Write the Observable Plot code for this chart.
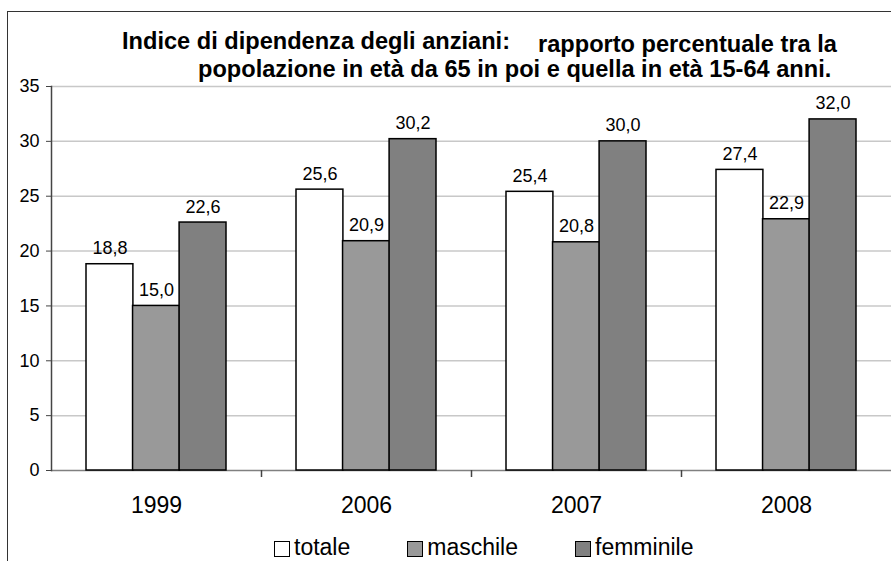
<!DOCTYPE html>
<html><head><meta charset="utf-8">
<script src="https://cdn.jsdelivr.net/npm/d3@7"></script>
<script src="https://cdn.jsdelivr.net/npm/@observablehq/plot@0.6"></script>
<style>
body{margin:0;background:#fff;}
#wrap{position:relative;width:891px;height:561px;overflow:hidden;font-family:"Liberation Sans",Arial,sans-serif;color:#000;background:#fff;}
#wrap svg{position:absolute;left:0;top:0;background:transparent;}
#border{position:absolute;left:7px;top:11px;width:1000px;height:1000px;border-top:1.5px solid #333;border-left:1.5px solid #333;pointer-events:none;}
.t{position:absolute;font-weight:bold;font-size:23.6px;line-height:23.6px;white-space:nowrap;}
#legend{position:absolute;left:274px;top:536px;display:flex;gap:57px;font-size:23px;line-height:23px;white-space:nowrap;}
.item{display:flex;align-items:flex-start;}
.box{width:14px;height:14px;border:1px solid #000;margin-top:5px;margin-right:4px;}
</style></head>
<body>
<div id="wrap">
  <div class="t" id="t1" style="left:122px;top:30px;"></div>
  <div class="t" id="t2" style="left:538px;top:33px;"></div>
  <div class="t" id="t3" style="left:198px;top:58px;"></div>
  <div id="legend"></div>
</div>
<script>
const years = ["1999", "2006", "2007", "2008"];
const series = ["totale", "maschile", "femminile"];
const totale = [18.8, 25.6, 25.4, 27.4];
const maschile = [15.0, 20.9, 20.8, 22.9];
const femminile = [22.6, 30.2, 30.0, 32.0];
const yTicks = [0, 5, 10, 15, 20, 25, 30, 35];
const colors = ["#ffffff", "#999999", "#808080"];
const titleA = "Indice di dipendenza degli anziani:";
const titleB = "rapporto percentuale tra la";
const titleC = "popolazione in età da 65 in poi e quella in età 15-64 anni.";

const values = [totale, maschile, femminile];
const rows = years.flatMap((y, i) => series.map((s, j) => ({year: y, series: s, value: values[j][i]})));
const fmt = v => d3.format(".1f")(v).replace(".", ",");

const W = 891, H = 561, ML = 51, MR = 0, MT = 86, MB = 91;
const pIn = 0.335, pOut = pIn / 2;
const step = (W - ML - MR) / (years.length - pIn + 2 * pOut);
const bw = step * (1 - pIn);
const third = bw / series.length;

const plot = Plot.plot({
  width: W, height: H,
  marginLeft: ML, marginRight: MR, marginTop: MT, marginBottom: MB,
  style: {fontFamily: "'Liberation Sans', Arial, sans-serif", background: "transparent", color: "#000"},
  x: {type: "band", domain: years, paddingInner: pIn, paddingOuter: pOut, axis: null},
  y: {domain: [0, 35], axis: null},
  marks: [
    Plot.ruleY(yTicks.slice(1), {stroke: "#c8c8c8", strokeWidth: 1.5}),
    Plot.ruleY([0], {stroke: "#808080", strokeWidth: 1.5}),
    ...series.map((s, j) => Plot.barY(rows.filter(d => d.series === s), {
      x: "year", y: "value", fill: colors[j], stroke: "#000", strokeWidth: 1.5,
      insetLeft: j * third, insetRight: (series.length - 1 - j) * third
    })),
    ...series.map((s, j) => Plot.text(rows.filter(d => d.series === s), {
      x: "year", y: "value", text: d => fmt(d.value), dx: (j - 1) * third, dy: -10,
      lineAnchor: "bottom", fontSize: 18, fill: "#000"
    })),
    Plot.frame({anchor: "left", stroke: "#444", strokeWidth: 1.5}),
    Plot.axisY({ticks: yTicks, tickSize: 5, tickPadding: 7, fontSize: 18, tickFormat: d => d, label: null, stroke: "#444"}),
    Plot.ruleX(years.slice(1), {x: d => d, y1: 0, y2: 0, insetBottom: -7, dx: -step / 2, stroke: "#444", strokeWidth: 1.5}),
    Plot.text(years, {x: d => d, frameAnchor: "bottom", lineAnchor: "bottom", dy: 42, fontSize: 23, fill: "#000"})
  ]
});
const wrap = document.getElementById("wrap");
wrap.insertBefore(plot, wrap.firstChild);
const border = document.createElement("div");
border.id = "border";
wrap.appendChild(border);

document.getElementById("t1").textContent = titleA;
document.getElementById("t2").textContent = titleB;
document.getElementById("t3").textContent = titleC;

const legend = document.getElementById("legend");
series.forEach((s, j) => {
  const item = document.createElement("div");
  item.className = "item";
  const box = document.createElement("div");
  box.className = "box";
  box.style.background = colors[j];
  const label = document.createElement("span");
  label.textContent = s;
  item.appendChild(box);
  item.appendChild(label);
  legend.appendChild(item);
});
</script>
</body></html>
